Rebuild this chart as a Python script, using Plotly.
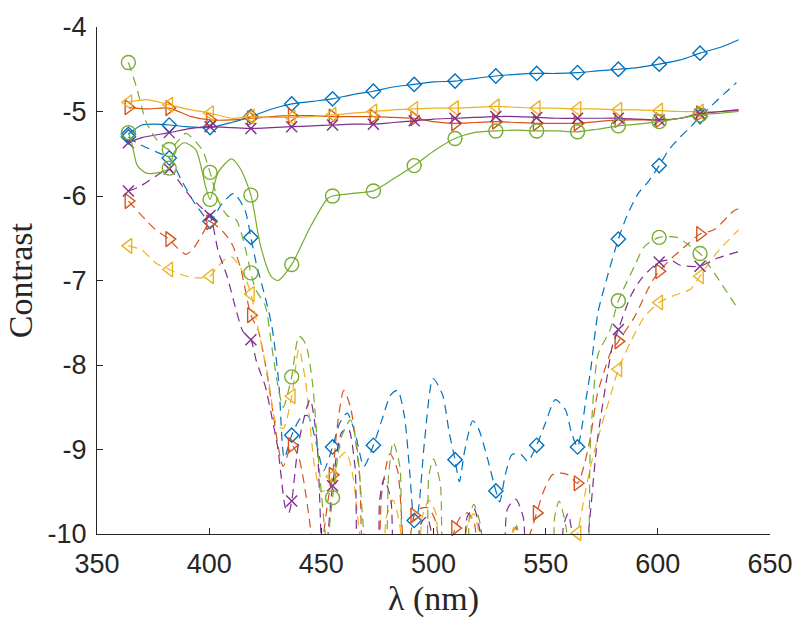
import plotly.graph_objects as go

# ---------------- data ----------------
MX = [364.0, 382.2, 400.4, 418.6, 436.8, 455.0, 473.2, 491.4, 509.6, 527.8, 546.0, 564.2, 582.4, 600.6, 618.8]

# solid curves: values at marker positions
blue_s_m = [-5.27, -5.16, -5.19, -5.06, -4.91, -4.85, -4.76, -4.68, -4.64, -4.58, -4.55, -4.54, -4.50, -4.44, -4.31]
orange_s_m = [-4.95, -4.96, -5.10, -5.08, -5.05, -5.06, -5.06, -5.08, -5.14, -5.12, -5.14, -5.14, -5.10, -5.10, -5.02]
yellow_s_m = [-4.89, -4.92, -5.02, -5.06, -5.07, -5.04, -5.00, -4.97, -4.96, -4.94, -4.96, -4.97, -4.98, -4.99, -5.00]
purple_s_m = [-5.37, -5.25, -5.18, -5.20, -5.18, -5.16, -5.15, -5.11, -5.08, -5.06, -5.07, -5.08, -5.08, -5.10, -5.03]
green_s_m = [-5.25, -5.67, -6.04, -5.99, -6.81, -6.00, -5.94, -5.64, -5.32, -5.23, -5.23, -5.24, -5.17, -5.12, -5.04]

# solid curves: points between markers
blue_s_x = [370, 376, 390, 410, 428, 446, 464, 482, 500, 518, 537, 555, 573, 591, 610, 628, 636]
blue_s_y = [-5.16, -5.15, -5.18, -5.13, -4.97, -4.88, -4.80, -4.71, -4.65, -4.61, -4.56, -4.55, -4.52, -4.48, -4.39, -4.24, -4.15]
orange_s_x = [372, 392, 410, 428, 446, 464, 482, 500, 518, 537, 555, 573, 591, 610, 628, 636]
orange_s_y = [-4.97, -5.06, -5.10, -5.06, -5.05, -5.06, -5.07, -5.12, -5.13, -5.13, -5.14, -5.12, -5.10, -5.08, -5.00, -4.98]
yellow_s_x = [372, 392, 410, 428, 446, 464, 482, 500, 518, 537, 555, 573, 591, 610, 628, 636]
yellow_s_y = [-4.86, -4.98, -5.08, -5.07, -5.06, -5.02, -4.98, -4.96, -4.95, -4.95, -4.96, -4.97, -4.98, -5.00, -5.00, -5.00]
purple_s_x = [370, 392, 410, 428, 446, 464, 482, 500, 518, 537, 555, 573, 591, 610, 628, 636]
purple_s_y = [-5.31, -5.20, -5.19, -5.19, -5.17, -5.15, -5.13, -5.09, -5.07, -5.06, -5.08, -5.08, -5.09, -5.08, -5.00, -4.98]
green_s_x = [365.5, 368, 372, 378, 384.4, 388.8, 394, 398.5, 404, 410, 414, 423, 427.6, 430.7, 445, 452.8, 464, 482, 500, 518, 537, 555, 573, 591, 610, 628, 636]
green_s_y = [-5.37, -5.64, -5.73, -5.72, -5.48, -5.37, -5.45, -5.90, -5.72, -5.56, -5.68, -6.60, -6.95, -7.00, -6.37, -6.03, -5.97, -5.80, -5.47, -5.25, -5.22, -5.23, -5.21, -5.15, -5.08, -5.02, -5.00]

# dashed curves: values at marker positions (None = below the axis)
blue_d_m = [-5.30, -5.55, -6.30, -6.49, -8.83, -8.97, -8.95, -9.84, -9.12, -9.49, -8.95, -8.97, -6.51, -5.64, -5.06]
orange_d_m = [-6.06, -6.51, -6.31, -7.41, -8.95, -9.30, None, -9.78, -9.93, None, -9.75, -9.40, -7.72, -6.89, -6.45]
yellow_d_m = [-6.59, -6.87, -6.95, -7.16, -8.37, -9.32, None, None, None, None, None, -9.99, -8.05, -7.26, -6.95]
purple_d_m = [-5.94, -5.68, -6.23, -7.70, -9.61, -9.43, None, None, None, None, None, None, -7.58, -6.78, -6.83]
green_d_m = [-4.42, -5.45, -5.72, -6.91, -8.14, -9.57, None, None, None, None, None, None, -7.24, -6.49, -6.68]

# dashed curves: points between markers
blue_d_x = [367.6, 376.5, 388, 392, 395, 405.5, 411, 416, 421, 423, 425, 428, 431, 433.5, 441, 444, 448, 451, 458, 461.5, 465, 469, 477, 481, 484, 487, 489.5, 493, 496, 499.8, 504, 507, 511.5, 514, 517.5, 520, 524, 529.5, 532, 535, 539, 542, 550, 554.3, 558.8, 561.5, 566, 568, 570, 573.3, 577, 586, 591, 596, 605, 610, 614, 624, 630, 635]
blue_d_y = [-5.37, -5.48, -5.83, -6.02, -6.14, -6.10, -5.97, -6.17, -6.80, -7.00, -7.20, -7.55, -8.20, -9.10, -8.62, -8.60, -8.95, -9.25, -8.70, -8.57, -8.80, -9.20, -8.65, -8.35, -8.30, -8.60, -9.30, -9.75, -8.90, -8.16, -8.35, -8.80, -9.38, -9.00, -8.66, -8.75, -9.10, -9.62, -9.30, -9.06, -9.06, -9.14, -8.68, -8.41, -8.53, -8.80, -8.76, -8.40, -8.07, -7.38, -7.00, -6.25, -5.98, -5.82, -5.45, -5.30, -5.20, -4.93, -4.78, -4.66]
orange_d_x = [372, 377, 386, 389.7, 393, 397, 405.7, 410, 414, 422, 426, 428.5, 431, 433, 440, 442, 445, 447.5, 450, 453, 457, 460, 463, 467, 470, 474, 477, 480.6, 484, 487.5, 494, 497.5, 501, 504, 507, 512, 515, 518, 522, 530, 533, 536.6, 540, 543, 549, 553, 557, 560, 567, 570, 573, 577, 579, 589.6, 597, 606, 612, 625, 633.7, 636]
orange_d_y = [-6.29, -6.42, -6.62, -6.69, -6.62, -6.45, -6.41, -6.56, -6.85, -7.60, -8.14, -8.57, -9.00, -9.20, -9.10, -9.35, -9.90, -10.6, -10.2, -9.60, -8.75, -8.30, -8.50, -9.30, -10.6, -10.6, -9.50, -9.05, -9.25, -10.4, -9.70, -9.69, -9.85, -10.6, -10.3, -9.80, -9.75, -9.85, -10.6, -10.6, -10.2, -9.92, -10.2, -10.0, -9.50, -9.30, -9.28, -9.30, -9.20, -8.85, -8.35, -8.00, -7.85, -7.43, -7.03, -6.74, -6.60, -6.40, -6.18, -6.15]
yellow_d_x = [370, 376.5, 390, 395, 404, 407, 410, 415, 422, 426, 430, 433, 440, 443, 447, 450, 453, 458, 461, 464, 467, 470, 476, 479, 482, 485, 488, 492, 495, 498, 501, 504, 512, 515, 518, 521, 524, 532, 535.7, 538, 541, 558, 561, 567, 570, 574, 579.6, 588, 594, 607, 614.7, 626, 636]
yellow_d_y = [-6.64, -6.80, -6.95, -6.97, -6.83, -6.75, -6.72, -6.90, -7.60, -8.10, -8.70, -8.75, -7.81, -8.20, -9.20, -9.50, -9.45, -9.10, -9.03, -9.30, -10.0, -10.6, -10.6, -9.80, -9.60, -9.90, -10.6, -10.6, -9.80, -9.60, -9.75, -10.6, -10.6, -9.90, -9.76, -10.1, -10.6, -10.6, -9.92, -10.2, -10.6, -10.6, -10.3, -9.60, -9.20, -8.80, -8.30, -7.72, -7.43, -7.18, -7.10, -6.68, -6.40]
purple_d_x = [369, 376.5, 386.6, 392, 397, 404, 408, 412, 415, 421, 423, 425, 427.6, 430.7, 432, 434, 435.5, 440, 445, 448, 451, 453, 459, 462, 465, 468, 474, 476, 478, 481, 484, 492, 494, 497, 500, 503, 512, 515, 518, 521, 524, 530, 533, 536.7, 540, 543, 555, 558, 560, 563, 566, 569, 573, 577, 579.6, 588, 592.6, 606, 610, 626, 636]
purple_d_y = [-5.89, -5.76, -5.83, -6.02, -6.15, -6.65, -6.95, -7.35, -7.60, -7.95, -8.10, -8.25, -8.57, -9.00, -9.30, -9.69, -9.75, -8.90, -8.41, -8.90, -10.6, -10.0, -8.80, -8.75, -9.20, -10.6, -10.6, -9.60, -9.34, -9.60, -10.6, -10.6, -9.90, -9.80, -10.1, -10.6, -10.6, -9.80, -9.70, -10.0, -10.6, -10.6, -9.70, -9.59, -9.80, -10.6, -10.6, -9.90, -9.76, -10.2, -10.6, -10.0, -8.90, -8.20, -7.79, -7.18, -6.98, -6.76, -6.82, -6.74, -6.66]
green_d_x = [367.6, 372, 376.5, 386, 389.6, 396.8, 404, 408, 412, 415, 420.6, 425, 428, 431, 433, 440, 443, 446, 449, 452.5, 459, 463, 466, 469, 472, 477, 480, 482, 485, 488, 495, 498, 500, 503, 506, 514, 516, 518, 521, 524, 534, 537, 540, 543, 552, 554, 556, 559, 562, 567, 570, 573.4, 578.5, 589.6, 594, 608.6, 614.7, 628.9, 636]
green_d_y = [-4.71, -5.13, -5.33, -5.35, -5.26, -5.45, -6.05, -6.23, -6.28, -6.50, -7.10, -7.30, -7.80, -8.30, -8.50, -7.66, -7.75, -8.20, -9.20, -10.1, -8.85, -8.65, -9.00, -10.0, -10.6, -10.6, -9.30, -8.91, -9.20, -10.6, -10.6, -9.30, -9.11, -9.40, -10.6, -10.6, -9.80, -9.65, -9.90, -10.6, -10.6, -9.90, -10.3, -10.6, -10.6, -9.80, -9.61, -9.90, -10.6, -10.6, -8.90, -7.87, -7.60, -6.83, -6.60, -6.49, -6.60, -7.06, -7.35]

SERIES = [
    ("#0072BD", "diamond-open", 11, blue_s_m, blue_s_x, blue_s_y, blue_d_m, blue_d_x, blue_d_y),
    ("#D95319", "triangle-right-open", 13, orange_s_m, orange_s_x, orange_s_y, orange_d_m, orange_d_x, orange_d_y),
    ("#EDB120", "triangle-left-open", 13, yellow_s_m, yellow_s_x, yellow_s_y, yellow_d_m, yellow_d_x, yellow_d_y),
    ("#7E2F8E", "x-thin-open", 11, purple_s_m, purple_s_x, purple_s_y, purple_d_m, purple_d_x, purple_d_y),
    ("#77AC30", "circle-open", 14, green_s_m, green_s_x, green_s_y, green_d_m, green_d_x, green_d_y),
]


def merged(mvals, ix, iy):
    pts = [(x, y) for x, y in zip(MX, mvals) if y is not None]
    pts += list(zip(ix, iy))
    pts.sort()
    return [p[0] for p in pts], [p[1] for p in pts]


fig = go.Figure()
AX = "#262626"
for color, sym, msz, sm, sx, sy, dm, dx, dy in SERIES:
    for mvals, ix, iy, dash in ((sm, sx, sy, "solid"), (dm, dx, dy, "9px,6px")):
        lx, ly = merged(mvals, ix, iy)
        fig.add_trace(go.Scatter(x=lx, y=ly, mode="lines",
                                 line=dict(color=color, width=1.2, dash=dash, shape="spline", smoothing=0.7),
                                 showlegend=False, hoverinfo="skip"))
        px = [x for x, y in zip(MX, mvals) if y is not None]
        py = [y for y in mvals if y is not None]
        fig.add_trace(go.Scatter(x=px, y=py, mode="markers", cliponaxis=False,
                                 marker=dict(symbol=sym, size=msz, color=color,
                                             line=dict(color=color, width=1.4)),
                                 showlegend=False, hoverinfo="skip"))

x_ticks = [350, 400, 450, 500, 550, 600, 650]
y_ticks = [-10, -9, -8, -7, -6, -5, -4]
TICKFONT = dict(family="Liberation Sans, Arial, sans-serif", size=27, color=AX)
LABELFONT = dict(family="Liberation Serif, serif", size=34, color=AX)

fig.update_layout(
    width=805, height=628,
    margin=dict(l=97, r=28, t=15, b=94),
    paper_bgcolor="white", plot_bgcolor="white",
    xaxis=dict(range=[350, 650], tickvals=x_ticks, ticktext=[str(v) for v in x_ticks],
               ticks="inside", ticklen=6, tickcolor=AX, showline=True, linecolor=AX, linewidth=1,
               showgrid=False, zeroline=False, ticklabelstandoff=6, tickfont=TICKFONT),
    yaxis=dict(range=[-10, -4], tickvals=y_ticks, ticktext=[str(v) for v in y_ticks],
               ticks="inside", ticklen=6, tickcolor=AX, showline=True, linecolor=AX, linewidth=1,
               showgrid=False, zeroline=False, ticklabelstandoff=4, tickfont=TICKFONT),
    annotations=[
        dict(text="Contrast", xref="paper", yref="paper", x=(20 - 97) / 680, y=0.5,
             textangle=-90, showarrow=False, xanchor="center", yanchor="middle",
             font=LABELFONT),
        dict(text="λ (nm)", xref="paper", yref="paper", x=0.5, y=(534 - 601) / 519,
             showarrow=False, xanchor="center", yanchor="middle",
             font=LABELFONT),
    ],
)

fig.write_html("out.html")
